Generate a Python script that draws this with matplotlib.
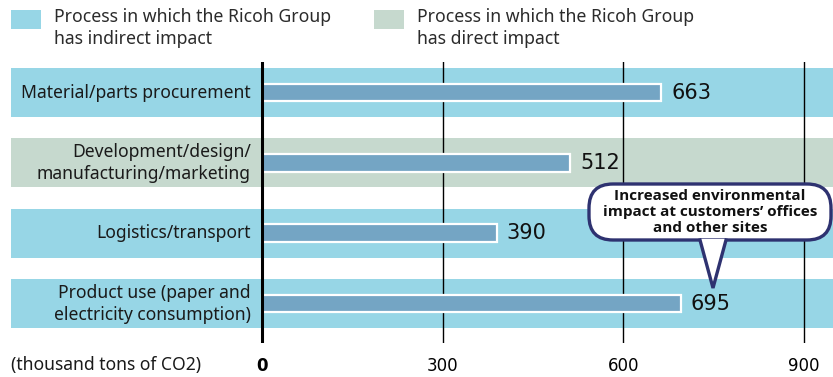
import matplotlib
matplotlib.use("Agg")
import matplotlib.pyplot as plt
from matplotlib.patches import FancyBboxPatch, Polygon, Rectangle
from matplotlib.lines import Line2D
from matplotlib.transforms import Affine2D

# --- data -------------------------------------------------------------
categories = [
    "Material/parts procurement",
    "Development/design/\nmanufacturing/marketing",
    "Logistics/transport",
    "Product use (paper and\nelectricity consumption)",
]
emissions = [663, 512, 390, 695]          # thousand tons of CO2
impact_type = ["indirect", "direct", "indirect", "indirect"]
xticks = [0, 300, 600, 900]
legend_labels = {
    "indirect": "Process in which the Ricoh Group\nhas indirect impact",
    "direct": "Process in which the Ricoh Group\nhas direct impact",
}
unit_label = "(thousand tons of CO2)"
callout_text = "Increased environmental\nimpact at customers\u2019 offices\nand other sites"

# --- style ------------------------------------------------------------
W, H = 833, 377
band_colors = {"indirect": "#97d6e6", "direct": "#c6d9ce"}
bar_color = "#74a5c4"
navy = "#2e3270"
label_font = "Noto Sans"
bold_font = ["Open Sans", "Lato", "DejaVu Sans"]
num_font = "DejaVu Sans"

fig = plt.figure(figsize=(W / 100, H / 100), dpi=100)
# pixel coordinates measured from the top-left corner of the figure
px = Affine2D().scale(1 / W, -1 / H).translate(0, 1) + fig.transFigure

ax = fig.add_axes([11 / W, 1 - 343 / H, (W - 11) / W, (343 - 62) / H])
ax.set_xlim(-416.7, 948)
ax.set_ylim(3.56, -0.434)
for s in ax.spines.values():
    s.set_visible(False)
ax.set_yticks([])

# background bands for each process
for i, kind in enumerate(impact_type):
    ax.axhspan(i - 0.348, i + 0.348, color=band_colors[kind], zorder=0, lw=0)

# vertical grid lines
for t in xticks[1:]:
    ax.axvline(t, color="black", lw=1.0, zorder=1)
ax.axvline(0, color="black", lw=2.2, zorder=3)

# bars
ypos = list(range(len(categories)))
ax.barh(ypos, emissions, height=0.25, color=bar_color, edgecolor="white",
        linewidth=1.6, zorder=2)

for y, v in zip(ypos, emissions):
    ax.annotate(f"{v}", xy=(v, y), xytext=(7, 0), textcoords="offset points",
                ha="left", va="center", fontsize=15, family=num_font,
                color="#111111", zorder=4)

for y, c in zip(ypos, categories):
    ax.annotate(c, xy=(0, y), xytext=(-8, 0), textcoords="offset points",
                ha="right", va="center", fontsize=12.6, family=label_font,
                color="#1a1a1a", linespacing=1.3, zorder=4)

# x tick labels
ax.set_xticks(xticks)
ax.set_xticklabels([str(t) for t in xticks], family=num_font, fontsize=12)
ax.tick_params(axis="x", length=0, pad=10)
ax.get_xticklabels()[0].set_fontweight("bold")

fig.text(11, 365, unit_label, transform=px, ha="left", va="center",
         fontsize=12.6, family=label_font, color="#1a1a1a")

# legend
for (sx, kind) in [(11, "indirect"), (374, "direct")]:
    fig.patches.append(Rectangle((sx, 29), 30, -19, transform=px,
                                 facecolor=band_colors[kind], lw=0))
    fig.text(sx + 43, 28, legend_labels[kind], transform=px, ha="left",
             va="center", fontsize=12.7, family=label_font, color="#2b2b2b",
             linespacing=1.3)

# callout bubble
box = FancyBboxPatch((589, 184), 242, 56,
                     boxstyle="round,pad=0,rounding_size=24",
                     transform=px, facecolor="white", edgecolor=navy,
                     lw=2.4, zorder=10)
fig.patches.append(box)
tip = Polygon([(700, 239), (713, 288), (726, 239)], closed=False,
              transform=px, facecolor="white", edgecolor="none", zorder=11)
fig.patches.append(tip)
fig.lines.append(Line2D([700, 713, 726], [240, 288, 240], transform=px,
                        color=navy, lw=2.4, zorder=12,
                        solid_joinstyle="miter"))
fig.text(710, 212, callout_text, transform=px, ha="center", va="center",
         fontsize=11, fontweight="bold", family=bold_font, color="#111111",
         linespacing=1.2, zorder=13)

fig.savefig("out.png", dpi=100)
